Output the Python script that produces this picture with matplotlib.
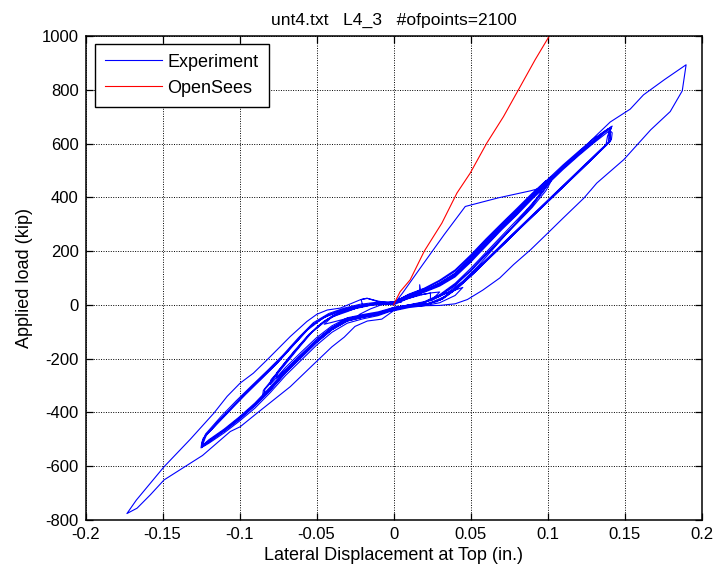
import matplotlib
matplotlib.use("Agg")
import matplotlib.pyplot as plt
from matplotlib.ticker import FixedLocator, FixedFormatter

plt.rcParams['font.family'] = ['Liberation Sans', 'DejaVu Sans']

# ---- measured load-displacement history, cycle by cycle (in., kip) ----
cycle_small_1 = [(0.000, 0), (0.008, 20), (0.017, 38), (0.017, 75), (0.018, 38), (0.025, 45),
                 (0.030, 48), (0.026, 25), (0.020, 8), (0.010, 0), (0.000, -10), (-0.010, -32),
                 (-0.020, -45), (-0.025, -52), (-0.022, -35), (-0.015, -15), (-0.008, 0), (0.000, 5)]
cycle_small_2 = [(0.000, 5), (0.010, 25), (0.020, 40), (0.024, 44), (0.024, 15), (0.030, 35),
                 (0.040, 55), (0.045, 65), (0.040, 35), (0.030, 8), (0.020, -3), (0.010, -6),
                 (0.000, -15), (-0.010, -35), (-0.020, -40), (-0.030, -50), (-0.040, -65),
                 (-0.045, -72), (-0.040, -45), (-0.030, -25), (-0.020, -3), (-0.021, 20),
                 (-0.017, 24), (-0.010, 12), (0.000, 0)]
cycle_first = [(0.000, 0), (0.006, 45), (0.019, 150), (0.033, 262), (0.0466, 366), (0.068, 398),
               (0.0888, 424), (0.094, 432), (0.099, 452), (0.1035, 476), (0.1025, 462),
               (0.099, 425), (0.090, 362), (0.080, 303), (0.070, 244), (0.060, 185), (0.050, 125),
               (0.040, 72), (0.030, 32), (0.020, 8), (0.010, -2), (0.000, -14), (-0.010, -33),
               (-0.020, -44), (-0.030, -57), (-0.040, -90), (-0.050, -137), (-0.060, -192),
               (-0.070, -248), (-0.080, -312), (-0.085, -338), (-0.0845, -318), (-0.082, -300),
               (-0.075, -250), (-0.065, -180), (-0.055, -112), (-0.045, -62), (-0.035, -30),
               (-0.025, -14), (-0.015, -2), (-0.005, 4), (0.000, 8)]
cycle_mid_1 = [(0.000, 8), (0.010, 32), (0.020, 52), (0.030, 78), (0.040, 114), (0.050, 170),
               (0.060, 230), (0.070, 290), (0.080, 345), (0.090, 404), (0.097, 445),
               (0.1015, 470), (0.1005, 450), (0.097, 420), (0.090, 375), (0.080, 315),
               (0.070, 255), (0.060, 195), (0.050, 135), (0.040, 80), (0.030, 38), (0.020, 12),
               (0.010, 0), (0.000, -12), (-0.010, -30), (-0.020, -40), (-0.030, -52),
               (-0.040, -84), (-0.050, -130), (-0.060, -185), (-0.070, -240), (-0.076, -272),
               (-0.0755, -250), (-0.073, -232), (-0.065, -175), (-0.055, -110), (-0.045, -60),
               (-0.035, -28), (-0.025, -12), (-0.015, 0), (-0.005, 6), (0.000, 10)]
cycle_mid_2 = [(0.000, 10), (0.010, 36), (0.020, 55), (0.030, 82), (0.040, 118), (0.050, 174),
               (0.060, 235), (0.070, 294), (0.080, 350), (0.090, 410), (0.098, 455),
               (0.103, 478), (0.1015, 458), (0.098, 430), (0.090, 368), (0.080, 305),
               (0.070, 248), (0.060, 188), (0.050, 128), (0.040, 75), (0.030, 35), (0.020, 10),
               (0.010, -3), (0.000, -16), (-0.010, -35), (-0.020, -46), (-0.030, -60),
               (-0.040, -92), (-0.050, -140), (-0.060, -196), (-0.070, -252), (-0.080, -316),
               (-0.084, -332), (-0.0835, -314), (-0.081, -298), (-0.073, -240), (-0.063, -170),
               (-0.053, -102), (-0.043, -55), (-0.033, -26), (-0.023, -10), (-0.013, 2),
               (0.000, 10)]
cycle_mid_3 = [(0.000, 10), (0.010, 40), (0.020, 62), (0.030, 92), (0.040, 130), (0.050, 185),
               (0.060, 245), (0.070, 302), (0.080, 358), (0.090, 415), (0.099, 462),
               (0.098, 440), (0.094, 405), (0.085, 340), (0.075, 275), (0.065, 210),
               (0.055, 145), (0.045, 88), (0.035, 45), (0.025, 18), (0.015, 3), (0.000, -10),
               (-0.010, -26), (-0.020, -36), (-0.030, -48), (-0.040, -78), (-0.050, -122),
               (-0.060, -176), (-0.070, -232), (-0.080, -296), (-0.0795, -278), (-0.077, -262),
               (-0.069, -205), (-0.059, -138), (-0.049, -78), (-0.039, -38), (-0.029, -16),
               (-0.019, -3), (-0.009, 6), (0.000, 10)]
cycle_large_1 = [(0.000, 10), (0.010, 30), (0.020, 50), (0.030, 74), (0.040, 108), (0.050, 163),
                 (0.060, 222), (0.070, 282), (0.080, 338), (0.090, 398), (0.100, 452),
                 (0.110, 508), (0.120, 558), (0.130, 606), (0.137, 640), (0.1415, 658),
                 (0.140, 640), (0.1395, 602), (0.130, 548), (0.120, 492), (0.110, 437),
                 (0.100, 382), (0.090, 327), (0.080, 272), (0.070, 217), (0.060, 162),
                 (0.050, 107), (0.040, 57), (0.030, 17), (0.020, 1), (0.010, -5), (0.000, -14),
                 (-0.010, -32), (-0.020, -43), (-0.030, -56), (-0.040, -88), (-0.050, -134),
                 (-0.060, -190), (-0.070, -246), (-0.080, -310), (-0.090, -370), (-0.100, -420),
                 (-0.110, -466), (-0.120, -506), (-0.1245, -527), (-0.1235, -505),
                 (-0.1225, -490), (-0.115, -442), (-0.105, -382), (-0.095, -323), (-0.085, -268),
                 (-0.075, -212), (-0.065, -148), (-0.055, -85), (-0.045, -45), (-0.035, -22),
                 (-0.025, -8), (-0.015, 2), (-0.005, 7), (0.000, 10)]
cycle_large_2 = [(0.000, 10), (0.010, 34), (0.020, 54), (0.030, 80), (0.040, 116), (0.050, 170),
                 (0.060, 230), (0.070, 290), (0.080, 345), (0.090, 405), (0.100, 460),
                 (0.110, 514), (0.120, 565), (0.130, 612), (0.136, 642), (0.142, 665),
                 (0.1405, 650), (0.141, 610), (0.132, 560), (0.122, 505), (0.112, 450),
                 (0.102, 395), (0.092, 340), (0.082, 285), (0.072, 228), (0.062, 172),
                 (0.052, 116), (0.042, 64), (0.032, 22), (0.022, 3), (0.012, -4), (0.000, -18),
                 (-0.010, -36), (-0.020, -46), (-0.030, -60), (-0.040, -93), (-0.050, -140),
                 (-0.060, -196), (-0.070, -252), (-0.080, -318), (-0.090, -376), (-0.100, -426),
                 (-0.110, -470), (-0.120, -510), (-0.125, -532), (-0.1245, -512),
                 (-0.1235, -495), (-0.116, -452), (-0.106, -392), (-0.096, -333), (-0.086, -277),
                 (-0.076, -220), (-0.066, -157), (-0.056, -94), (-0.046, -50), (-0.036, -25),
                 (-0.026, -10), (-0.016, 0), (-0.006, 6), (0.000, 9)]
cycle_large_3 = [(0.000, 9), (0.010, 28), (0.020, 47), (0.030, 70), (0.040, 104), (0.050, 158),
                 (0.060, 218), (0.070, 278), (0.080, 334), (0.090, 393), (0.100, 448),
                 (0.110, 503), (0.120, 554), (0.130, 602), (0.1385, 640), (0.1405, 648),
                 (0.139, 628), (0.138, 596), (0.128, 540), (0.118, 485), (0.108, 430),
                 (0.098, 375), (0.088, 320), (0.078, 265), (0.068, 210), (0.058, 155),
                 (0.048, 100), (0.038, 50), (0.028, 12), (0.018, -1), (0.008, -6), (0.000, -12),
                 (-0.010, -30), (-0.020, -41), (-0.030, -54), (-0.040, -85), (-0.050, -130),
                 (-0.060, -186), (-0.070, -242), (-0.080, -305), (-0.090, -365), (-0.100, -416),
                 (-0.110, -462), (-0.120, -502), (-0.1235, -520), (-0.1235, -500),
                 (-0.122, -486), (-0.114, -436), (-0.104, -376), (-0.094, -318), (-0.084, -262),
                 (-0.074, -206), (-0.064, -142), (-0.054, -80), (-0.044, -42), (-0.034, -20),
                 (-0.024, -6), (-0.014, 3), (-0.004, 8), (0.000, 10)]
cycle_large_4 = [(0.000, 10), (0.010, 32), (0.020, 52), (0.030, 77), (0.040, 112), (0.050, 166),
                 (0.060, 226), (0.070, 286), (0.080, 342), (0.090, 401), (0.100, 456),
                 (0.110, 511), (0.120, 562), (0.130, 609), (0.138, 648), (0.1415, 662),
                 (0.1405, 645), (0.1405, 606), (0.131, 553), (0.121, 498), (0.111, 443),
                 (0.101, 388), (0.091, 333), (0.081, 278), (0.071, 222), (0.061, 167),
                 (0.051, 112), (0.041, 60), (0.031, 20), (0.021, 2), (0.011, -4), (0.000, -16),
                 (-0.010, -34), (-0.020, -45), (-0.030, -58), (-0.040, -90), (-0.050, -137),
                 (-0.060, -193), (-0.070, -249), (-0.080, -314), (-0.090, -373), (-0.100, -423),
                 (-0.110, -468), (-0.120, -508), (-0.124, -522), (-0.1225, -498),
                 (-0.1215, -485), (-0.113, -430), (-0.103, -370), (-0.093, -312), (-0.083, -256),
                 (-0.073, -198), (-0.063, -136), (-0.053, -76), (-0.043, -40), (-0.033, -18),
                 (-0.023, -4), (-0.013, 4), (0.000, 10)]
cycle_large_5 = [(0.000, 10), (0.010, 38), (0.020, 60), (0.030, 88), (0.040, 125), (0.050, 180),
                 (0.060, 240), (0.070, 298), (0.080, 352), (0.090, 410), (0.100, 466),
                 (0.110, 520), (0.120, 570), (0.130, 618), (0.1395, 655), (0.142, 640),
                 (0.1415, 615), (0.133, 570), (0.123, 515), (0.113, 460), (0.103, 405),
                 (0.093, 350), (0.083, 295), (0.073, 240), (0.063, 184), (0.053, 128),
                 (0.043, 74), (0.033, 30), (0.023, 6), (0.013, -2), (0.000, -20), (-0.010, -40),
                 (-0.020, -52), (-0.030, -68), (-0.040, -102), (-0.050, -150), (-0.060, -206),
                 (-0.070, -262), (-0.080, -326), (-0.090, -384), (-0.100, -432), (-0.110, -476),
                 (-0.120, -515), (-0.1245, -530), (-0.124, -508), (-0.122, -480), (-0.112, -415),
                 (-0.102, -356), (-0.092, -300), (-0.082, -245), (-0.072, -188), (-0.062, -124),
                 (-0.052, -66), (-0.042, -32), (-0.032, -12), (-0.022, 2), (-0.012, 9),
                 (0.000, 12)]
cycle_peak = [(0.000, 10), (0.010, 30), (0.020, 52), (0.030, 78), (0.040, 114), (0.050, 168),
              (0.060, 228), (0.070, 288), (0.080, 344), (0.090, 402), (0.100, 458), (0.110, 512),
              (0.120, 566), (0.132, 632), (0.1407, 680), (0.1537, 728), (0.1623, 781),
              (0.176, 838), (0.190, 893), (0.1875, 796), (0.1797, 719), (0.167, 651),
              (0.1495, 540), (0.132, 453), (0.1236, 397), (0.110, 322), (0.100, 266),
              (0.089, 205), (0.078, 150), (0.069, 100), (0.058, 55), (0.048, 20), (0.040, 4),
              (0.030, -2), (0.020, -3), (0.010, -10), (0.000, -22), (-0.0076, -53),
              (-0.017, -60), (-0.025, -80), (-0.032, -120), (-0.040, -156), (-0.051, -216),
              (-0.067, -304), (-0.0887, -403), (-0.0995, -453), (-0.106, -471), (-0.124, -560),
              (-0.149, -651), (-0.158, -707), (-0.1665, -756), (-0.1731, -776), (-0.167, -726),
              (-0.149, -602), (-0.132, -500), (-0.1167, -403), (-0.108, -340), (-0.0996, -291),
              (-0.091, -254), (-0.0822, -205), (-0.0671, -118), (-0.0563, -62), (-0.0498, -35),
              (-0.043, -19), (-0.0346, -12), (-0.0216, 19), (-0.0173, 25), (-0.010, 14),
              (-0.002, 7), (0.005, 10)]

experiment_cycles = [cycle_small_1, cycle_small_2, cycle_first, cycle_mid_1, cycle_mid_2,
                     cycle_mid_3, cycle_large_1, cycle_large_2, cycle_large_3, cycle_large_4,
                     cycle_large_5, cycle_peak]

# ---- OpenSees prediction (monotonic branch) ----
opensees_disp = [0.000, 0.0043, 0.0108, 0.0200, 0.0314, 0.0412, 0.0498, 0.0606, 0.0714,
                 0.0823, 0.0920, 0.1017, 0.1050]
opensees_load = [0, 49, 93, 200, 304, 416, 490, 602, 700, 812, 912, 1005, 1040]

x_ticks = [-0.2, -0.15, -0.1, -0.05, 0, 0.05, 0.1, 0.15, 0.2]
x_tick_labels = ['-0.2', '-0.15', '-0.1', '-0.05', '0', '0.05', '0.1', '0.15', '0.2']
y_ticks = [-800, -600, -400, -200, 0, 200, 400, 600, 800, 1000]
y_tick_labels = [str(v) for v in y_ticks]

title_text = 'unt4.txt   L4_3   #ofpoints=2100'
x_label = 'Lateral Displacement at Top (in.)'
y_label = 'Applied load (kip)'

exp_x = [p[0] for cyc in experiment_cycles for p in cyc]
exp_y = [p[1] for cyc in experiment_cycles for p in cyc]

W, H = 717, 575
fig = plt.figure(figsize=(W / 100, H / 100), dpi=100)
ax = fig.add_axes([85.5 / W, 55 / H, 616 / W, 484 / H])

ax.plot(exp_x, exp_y, color=(0, 0, 1), lw=0.8, label='Experiment')
ax.plot(opensees_disp, opensees_load, color=(1, 0, 0), lw=0.8, label='OpenSees')

ax.set_xlim(-0.2, 0.2)
ax.set_ylim(-800, 1000)
ax.xaxis.set_major_locator(FixedLocator(x_ticks))
ax.xaxis.set_major_formatter(FixedFormatter(x_tick_labels))
ax.yaxis.set_major_locator(FixedLocator(y_ticks))
ax.yaxis.set_major_formatter(FixedFormatter(y_tick_labels))

ax.grid(True, color='k', linestyle=(0, (1, 1.5)), linewidth=0.7)
ax.tick_params(direction='in', length=5, width=0.9, top=True, right=True,
               labelsize=12, pad=5, colors='k')
for s in ax.spines.values():
    s.set_linewidth(1.1)

ax.set_title(title_text, fontsize=12.6, pad=8)
ax.set_xlabel(x_label, fontsize=13, labelpad=4)
ax.set_ylabel(y_label, fontsize=13, labelpad=6)

leg = ax.legend(loc='upper left', bbox_to_anchor=(0.016, 0.984), borderaxespad=0,
                fontsize=13, handlelength=3.15, handletextpad=0.3, labelspacing=0.5,
                borderpad=0.55, fancybox=False, framealpha=1, edgecolor='k')
leg.get_frame().set_linewidth(1.0)

fig.savefig('out.png', dpi=100)
